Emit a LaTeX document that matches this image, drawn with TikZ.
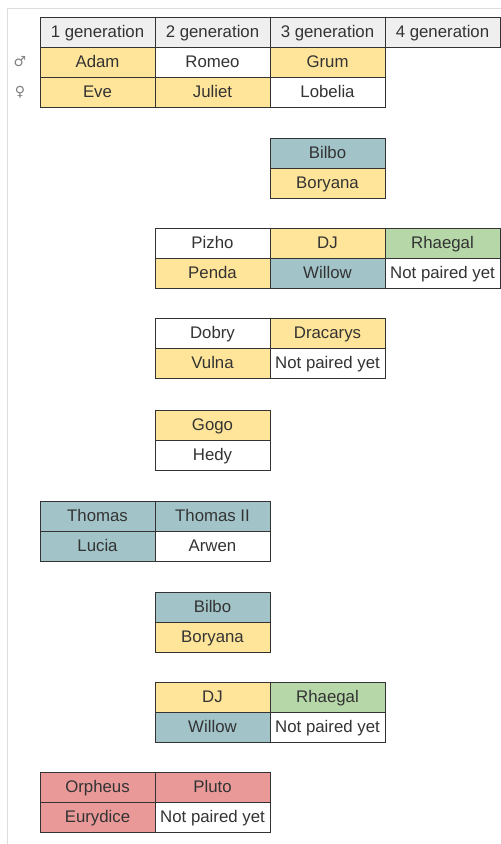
\documentclass[tikz,border=0pt]{standalone}
\usepackage{fontspec}
\setmainfont{Liberation Sans}
\newfontfamily\symfont{DejaVu Sans}
\definecolor{yel}{HTML}{FFE599}
\definecolor{blu}{HTML}{A2C4C9}
\definecolor{grn}{HTML}{B6D7A8}
\definecolor{rd}{HTML}{EA9999}
\definecolor{hdr}{HTML}{EFEFEF}
\definecolor{txt}{HTML}{333333}
\definecolor{frm}{HTML}{DDDDDD}
\begin{document}
\begin{tikzpicture}[x=1pt,y=-1pt,
  cell/.style={draw=txt, line width=0.9pt, rectangle, minimum width=115pt, minimum height=30pt,
    inner sep=0pt, text height=12.5pt, text depth=2.3pt, text=txt,
    font=\fontsize{16.8}{19}\selectfont, fill=white},
  gsym/.style={text=gray, font=\symfont\fontsize{14}{16}\selectfont}]
\useasboundingbox (0,0) rectangle (501,844);
\fill[white] (0,0) rectangle (501,844);
\coordinate (tl) at (7,8);
\coordinate (tr) at (501,8);
\coordinate (bl) at (7,844);
\draw[frm, line width=1pt] (tr) -- (tl) -- (bl);
% header
\node[cell, fill=hdr] (h1) at (97.5,32) {1 generation};
\node[cell, fill=hdr] (h2) at (212.5,32) {2 generation};
\node[cell, fill=hdr] (h3) at (327.5,32) {3 generation};
\node[cell, fill=hdr] (h4) at (442.5,32) {4 generation};
\node[gsym] (male) at (20,62) {♂};
\node[gsym] (female) at (20,92) {♀};
\node[cell, fill=yel] (adam) at (97.5,62) {Adam};
\node[cell] (romeo) at (212.5,62) {Romeo};
\node[cell, fill=yel] (grum) at (327.5,62) {Grum};
\node[cell, fill=yel] (eve) at (97.5,92) {Eve};
\node[cell, fill=yel] (juliet) at (212.5,92) {Juliet};
\node[cell] (lobelia) at (327.5,92) {Lobelia};
% Bilbo
\node[cell, fill=blu] (bilbo) at (327.5,153) {Bilbo};
\node[cell, fill=yel] (boryana) at (327.5,183) {Boryana};
% Pizho
\node[cell] (pizho) at (212.5,243) {Pizho};
\node[cell, fill=yel] (dj) at (327.5,243) {DJ};
\node[cell, fill=grn] (rhaegal) at (442.5,243) {Rhaegal};
\node[cell, fill=yel] (penda) at (212.5,273) {Penda};
\node[cell, fill=blu] (willow) at (327.5,273) {Willow};
\node[cell] (npy1) at (442.5,273) {Not paired yet};
% Dobry
\node[cell] (dobry) at (212.5,333) {Dobry};
\node[cell, fill=yel] (dracarys) at (327.5,333) {Dracarys};
\node[cell, fill=yel] (vulna) at (212.5,363) {Vulna};
\node[cell] (npy2) at (327.5,363) {Not paired yet};
% Gogo
\node[cell, fill=yel] (gogo) at (212.5,425) {Gogo};
\node[cell] (hedy) at (212.5,455) {Hedy};
% Thomas
\node[cell, fill=blu] (thomas) at (97.5,516) {Thomas};
\node[cell, fill=blu] (thomasii) at (212.5,516) {Thomas II};
\node[cell, fill=blu] (lucia) at (97.5,546) {Lucia};
\node[cell] (arwen) at (212.5,546) {Arwen};
% Bilbo 2
\node[cell, fill=blu] (bilbob) at (212.5,607) {Bilbo};
\node[cell, fill=yel] (boryanab) at (212.5,637) {Boryana};
% DJ 2
\node[cell, fill=yel] (djb) at (212.5,697) {DJ};
\node[cell, fill=grn] (rhaegalb) at (327.5,697) {Rhaegal};
\node[cell, fill=blu] (willowb) at (212.5,727) {Willow};
\node[cell] (npy3) at (327.5,727) {Not paired yet};
% Orpheus
\node[cell, fill=rd] (orpheus) at (97.5,787.5) {Orpheus};
\node[cell, fill=rd] (pluto) at (212.5,787.5) {Pluto};
\node[cell, fill=rd] (eurydice) at (97.5,817.5) {Eurydice};
\node[cell] (npy4) at (212.5,817.5) {Not paired yet};
\end{tikzpicture}
\end{document}
